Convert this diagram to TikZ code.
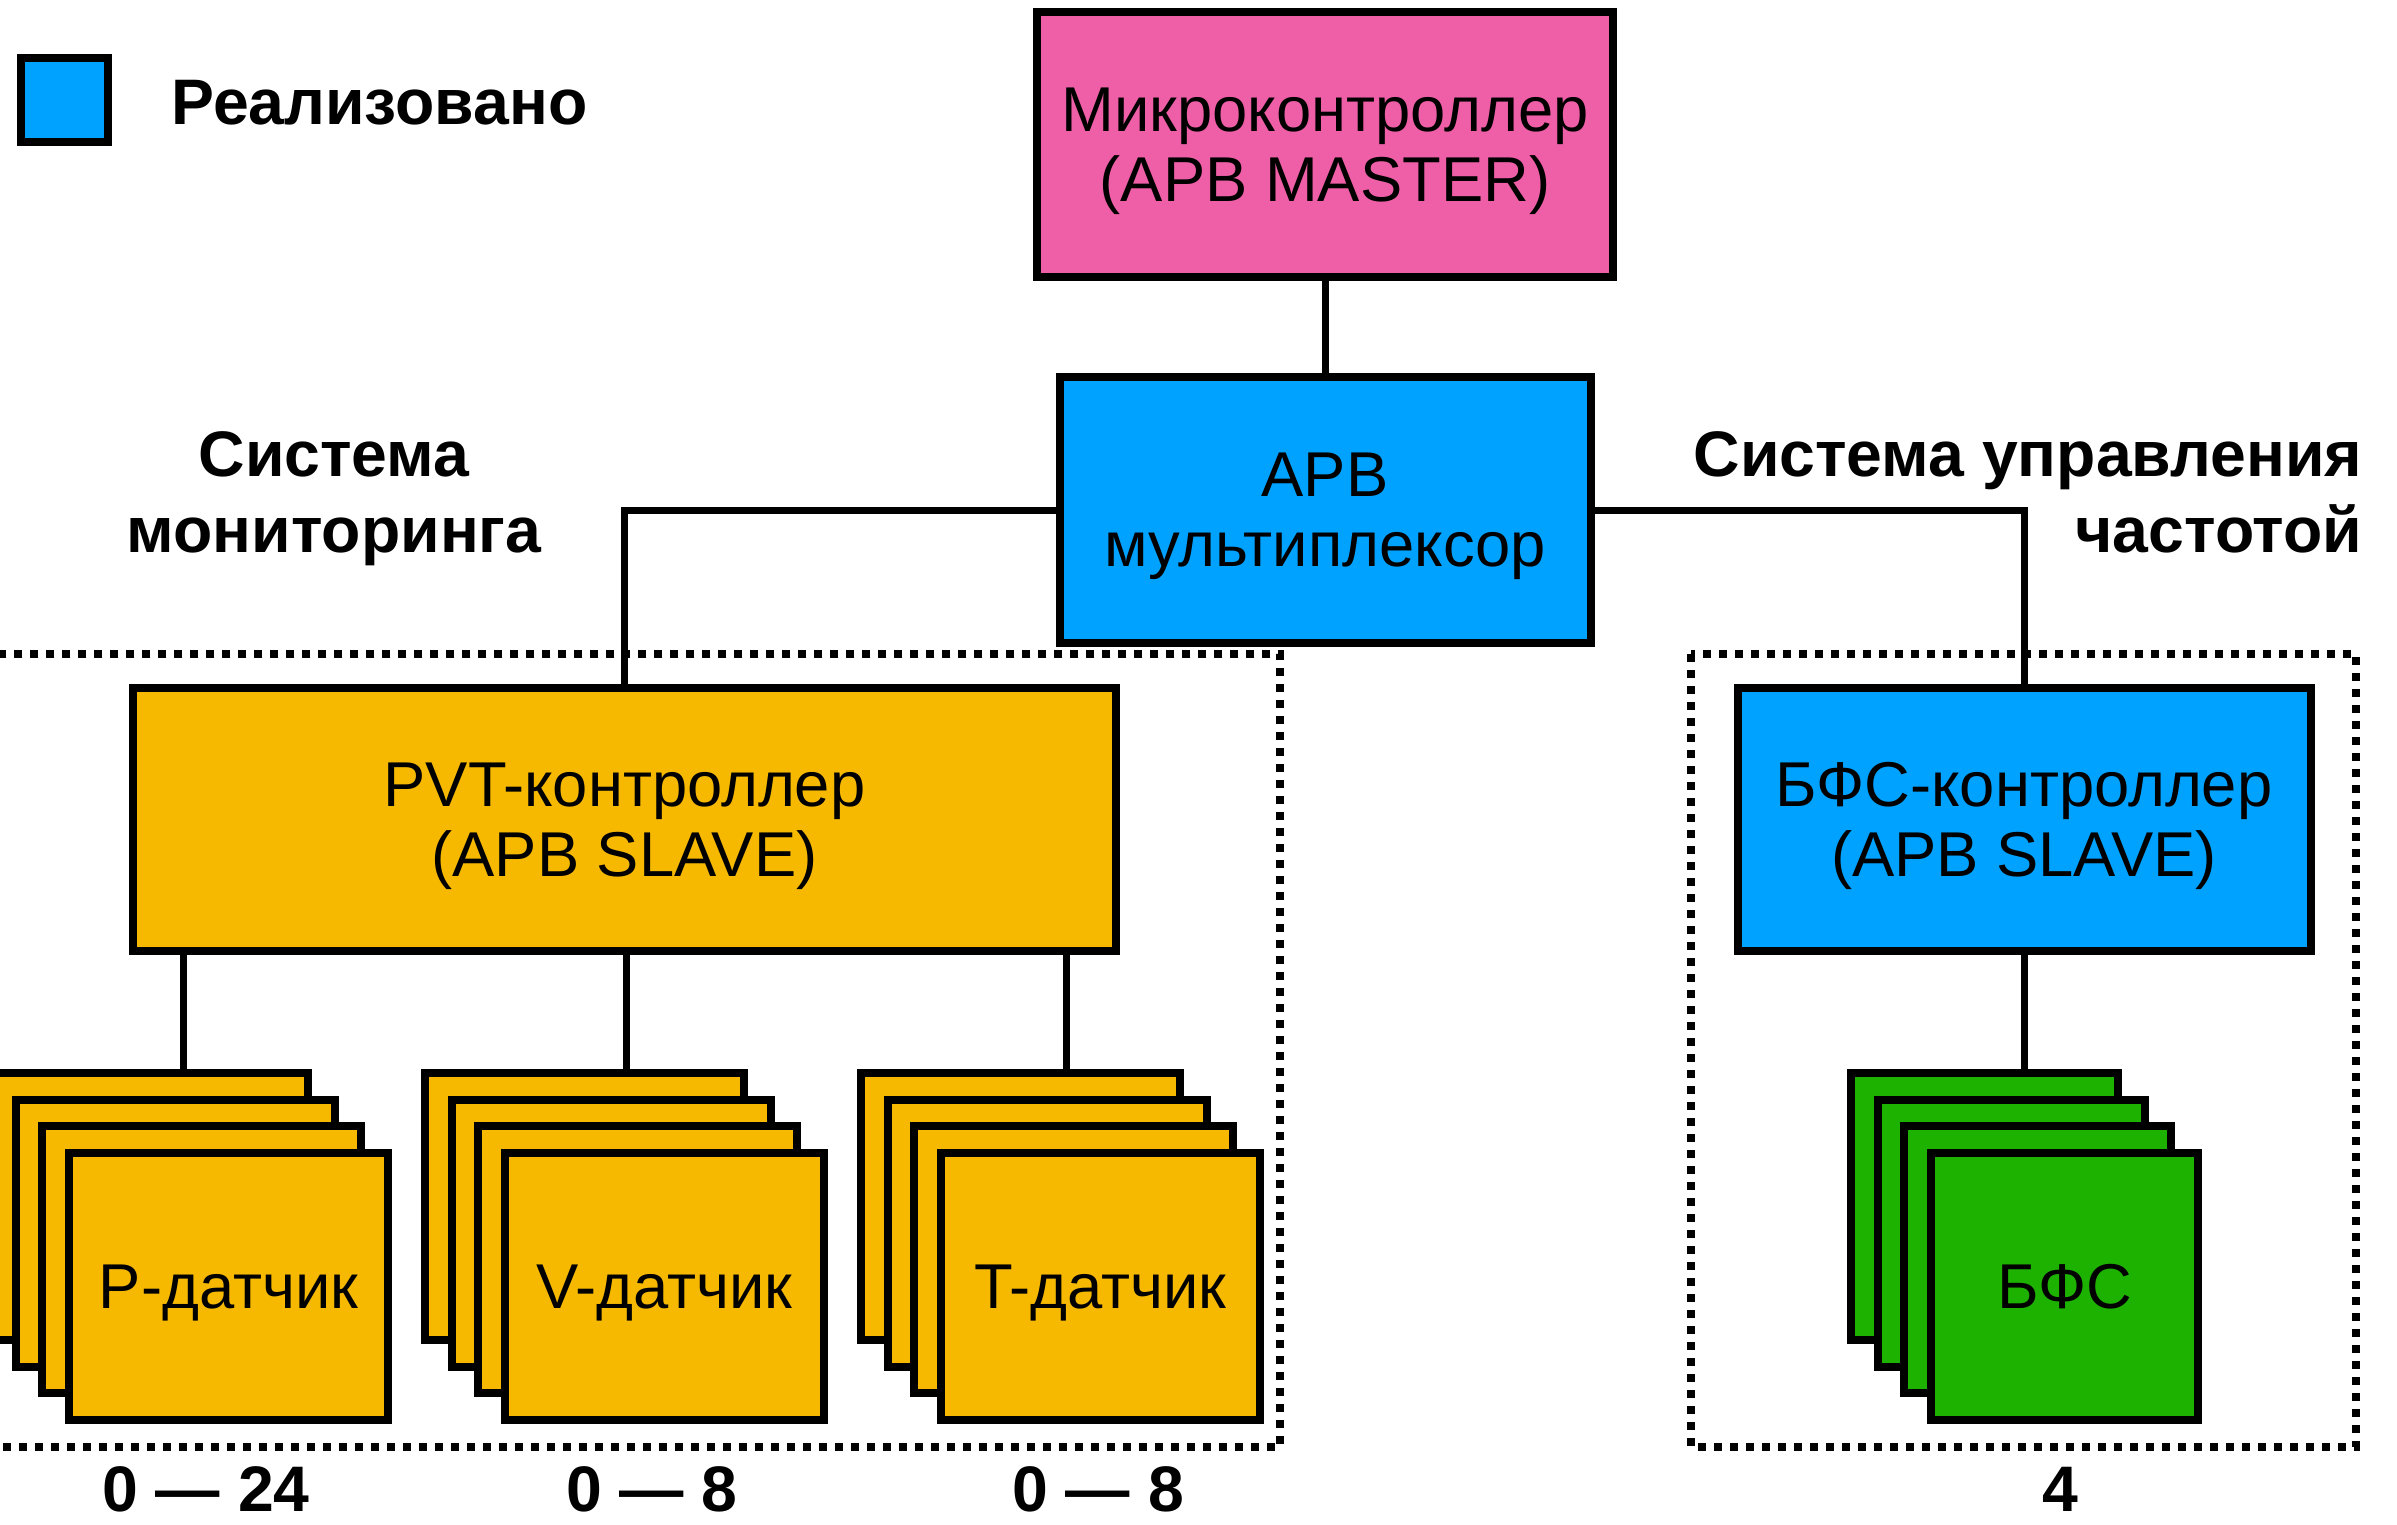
\documentclass[tikz,border=0pt]{standalone}
\usepackage{fontspec}
\setmainfont{Liberation Sans}
\usepackage{tikz}
\usetikzlibrary{positioning}

\definecolor{mcupink}{HTML}{EF5FA7}
\definecolor{doneblue}{HTML}{00A2FF}
\definecolor{pvtyellow}{HTML}{F6B900}
\definecolor{bfsgreen}{HTML}{1DB100}

% last line of a box text: keep its descenders out of the centring
\newcommand{\nodepth}[1]{\raisebox{0pt}[\height][0pt]{#1}}

\begin{document}
\begin{tikzpicture}[x=0.3pt, y=-0.3pt,
    block/.style={draw, line width=2.4pt, inner sep=0pt, align=center,
      font=\fontsize{19}{21}\selectfont},
    sensor/.style={block, fill=pvtyellow, text depth=0pt, minimum width=95.7pt, minimum height=80.1pt},
    unit/.style={block, fill=bfsgreen, text depth=0pt, minimum width=80.1pt, minimum height=80.1pt},
    wire/.style={line width=2.1pt},
    group/.style={line width=2.4pt, dash pattern=on 2.4pt off 2.4pt},
    caption/.style={inner sep=0pt, align=center, font=\bfseries\fontsize{19.3}{22.8}\selectfont}]
  \useasboundingbox (0,0) rectangle (2397,1524);

  % dotted groups
  \draw [group] (-20,654) rectangle (1280,1447);
  \draw [group] (1691,654) rectangle (2356,1447);

  \node (ilegend) [draw, line width=2.4pt, fill=doneblue, minimum width=26.1pt, minimum height=25.2pt] at (64.5,100) {};
  \node (tlegend) [caption, right=17.7pt of ilegend, yshift=-0.8pt] {Реализовано};

  \node (imcu) [block, fill=mcupink, minimum width=172.8pt, minimum height=79.5pt] at (1325,144.5) {Микроконтроллер\\\nodepth{(APB MASTER)}};
  \node (imux) [block, fill=doneblue, minimum width=159.3pt, minimum height=79.8pt] at (1325,510) {APB\\\nodepth{мультиплексор}};
  \node (ipvt) [block, fill=pvtyellow, minimum width=294.9pt, minimum height=78.9pt] at (624.5,819.5) {PVT-контроллер\\\nodepth{(APB SLAVE)}};
  \node (ibfsc) [block, fill=doneblue, minimum width=171.9pt, minimum height=78.9pt] at (2024,819.5) {БФС-контроллер\\\nodepth{(APB SLAVE)}};

  \node (tmon) [caption] at (334,492) {Система\\\nodepth{мониторинга}};
  \node (tfreq) [caption, anchor=east, align=right] at (2363,492) {Система управления\\\nodepth{частотой}};

  % stacks of sensors
  \node (iP1) [sensor] at (148.4,1206.4) {};
  \node (iP2) [sensor] at ([shift={(26.7,26.7)}]iP1) {};
  \node (iP3) [sensor] at ([shift={(26.7,26.7)}]iP2) {};
  \node (iP4) [sensor] at ([shift={(26.7,26.7)}]iP3) {P-датчик};

  \node (iV1) [sensor] at (584.4,1206.4) {};
  \node (iV2) [sensor] at ([shift={(26.7,26.7)}]iV1) {};
  \node (iV3) [sensor] at ([shift={(26.7,26.7)}]iV2) {};
  \node (iV4) [sensor] at ([shift={(26.7,26.7)}]iV3) {V-датчик};

  \node (iT1) [sensor] at (1020.4,1206.4) {};
  \node (iT2) [sensor] at ([shift={(26.7,26.7)}]iT1) {};
  \node (iT3) [sensor] at ([shift={(26.7,26.7)}]iT2) {};
  \node (iT4) [sensor] at ([shift={(26.7,26.7)}]iT3) {T-датчик};

  \node (iB1) [unit] at (1984.4,1206.4) {};
  \node (iB2) [unit] at ([shift={(26.7,26.7)}]iB1) {};
  \node (iB3) [unit] at ([shift={(26.7,26.7)}]iB2) {};
  \node (iB4) [unit] at ([shift={(26.7,26.7)}]iB3) {БФС};

  \node (nP) [caption, anchor=base] at (206,1511) {0 — 24};
  \node (nV) [caption, anchor=base] at (652,1511) {0 — 8};
  \node (nT) [caption, anchor=base] at (1098,1511) {0 — 8};
  \node (nB) [caption, anchor=base] at (2060,1511) {4};

  \coordinate (pvtP) at (183,955);
  \coordinate (pvtV) at (626,955);
  \coordinate (pvtT) at (1066,955);

  \draw [wire] (imcu.south) -- (imcu.south |- imux.north);
  \draw [wire] (imux.west) -| (ipvt.north);
  \draw [wire] (imux.east) -| (ibfsc.north);
  \draw [wire] (pvtP) -- (pvtP |- iP1.north);
  \draw [wire] (pvtV) -- (pvtV |- iV1.north);
  \draw [wire] (pvtT) -- (pvtT |- iT1.north);
  \draw [wire] (ibfsc.south) -- (ibfsc.south |- iB1.north);
\end{tikzpicture}
\end{document}
